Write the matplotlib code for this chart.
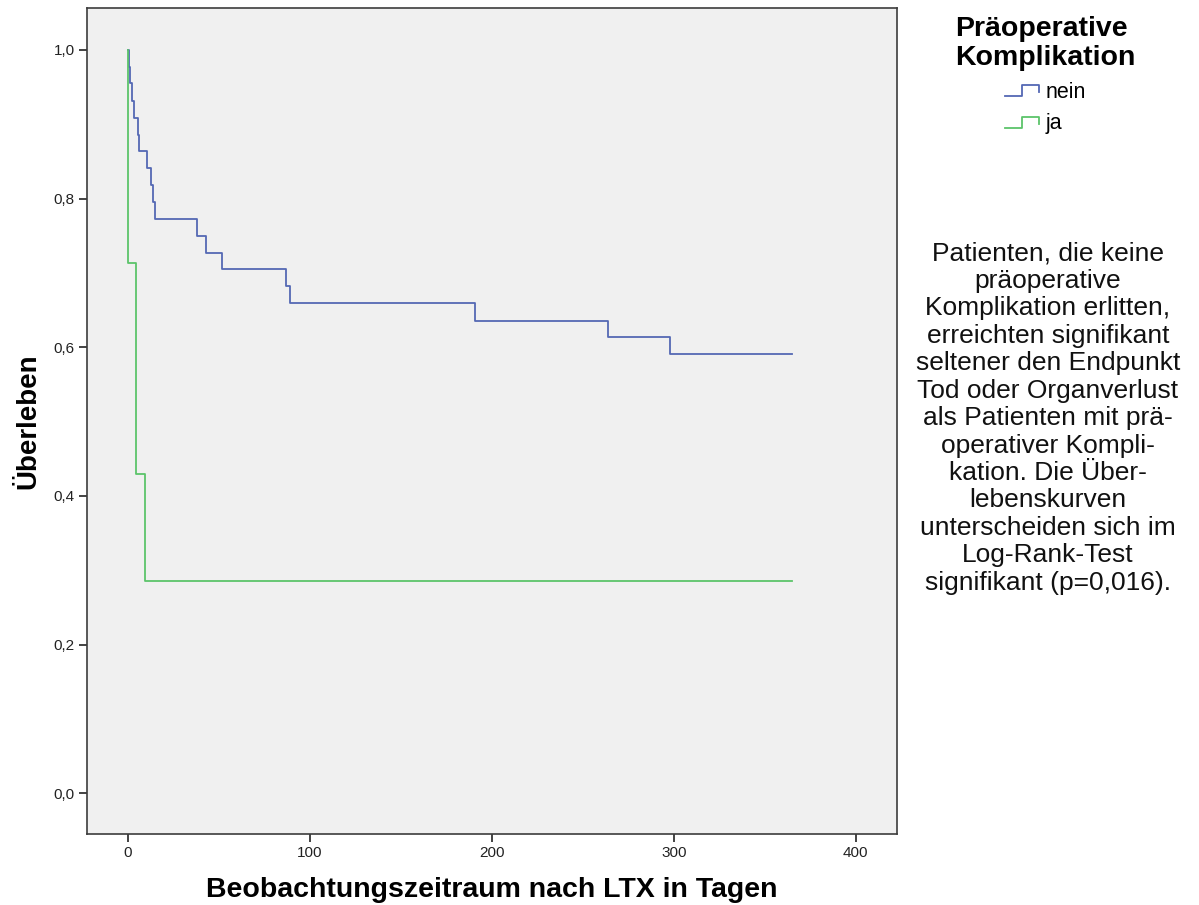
import matplotlib.pyplot as plt
from matplotlib.lines import Line2D
from matplotlib.legend_handler import HandlerBase


# -----------------------------
# Data
# -----------------------------

nein_days = [0, 0.5, 1.5, 2.5, 3.5, 5.5, 6, 10.5, 13, 14, 15,
             38, 43, 52, 87, 89, 191, 264, 298, 365]
nein_surv = [1.0, 0.977, 0.955, 0.932, 0.909, 0.886, 0.864, 0.841,
             0.818, 0.795, 0.773, 0.750, 0.727, 0.705, 0.682, 0.659,
             0.636, 0.614, 0.591, 0.591]

ja_days = [0, 0.3, 4.5, 9.5, 365]
ja_surv = [1.0, 0.714, 0.429, 0.286, 0.286]

x_ticks = [0, 100, 200, 300, 400]
y_ticks = [0.0, 0.2, 0.4, 0.6, 0.8, 1.0]
y_tick_labels = ["0,0", "0,2", "0,4", "0,6", "0,8", "1,0"]

group_names = ["nein", "ja"]
group_colors = ["#5468b4", "#5cc46a"]

note_text = (
    "Patienten, die keine\n"
    "präoperative\n"
    "Komplikation erlitten,\n"
    "erreichten signifikant\n"
    "seltener den Endpunkt\n"
    "Tod oder Organverlust\n"
    "als Patienten mit prä-\n"
    "operativer Kompli-\n"
    "kation. Die Über-\n"
    "lebenskurven\n"
    "unterscheiden sich im\n"
    "Log-Rank-Test\n"
    "signifikant (p=0,016)."
)


plt.rcParams["font.family"] = ["Liberation Sans", "DejaVu Sans"]


# step shaped legend icon, like the SPSS one
class StepHandler(HandlerBase):

    def create_artists(self, legend, orig_handle, xdescent, ydescent,
                       width, height, fontsize, trans):
        x0 = -xdescent
        y0 = -ydescent
        xs = [x0, x0 + width * 0.5, x0 + width * 0.5, x0 + width, x0 + width]
        ys = [y0 + height * 0.1, y0 + height * 0.1, y0 + height * 0.8,
              y0 + height * 0.8, y0 + height * 0.35]
        line = Line2D(xs, ys, color=orig_handle.get_color(),
                      linewidth=orig_handle.get_linewidth(), transform=trans)
        return [line]


fig = plt.figure(figsize=(11.99, 9.05), dpi=100)
ax = fig.add_axes([0.0728, 0.0785, 0.6751, 0.9127])

ax.set_facecolor("#f0f0f0")

handles = []
for days, surv, name, color in [
    (nein_days, nein_surv, group_names[0], group_colors[0]),
    (ja_days, ja_surv, group_names[1], group_colors[1]),
]:
    h, = ax.step(days, surv, where="post", color=color,
                 linewidth=1.3, label=name)
    handles.append(h)

ax.set_xlim(-22.2, 422.5)
ax.set_ylim(-0.0548, 1.0565)

ax.set_xticks(x_ticks)
ax.set_xticklabels([str(t) for t in x_ticks])
ax.set_yticks(y_ticks)
ax.set_yticklabels(y_tick_labels)

ax.tick_params(axis="both", direction="out", length=6, width=1.2,
               colors="#222222", labelsize=11, pad=3)

for side in ["left", "right", "top", "bottom"]:
    ax.spines[side].set_color("#3c3c3c")
    ax.spines[side].set_linewidth(1.2)

ax.set_xlabel("Beobachtungszeitraum nach LTX in Tagen",
              fontsize=20.5, fontweight="bold", va="center")
ax.xaxis.set_label_coords(0.5, -0.0678)
ax.set_ylabel("Überleben", fontsize=20, fontweight="bold", va="center")
ax.yaxis.set_label_coords(-0.0733, 0.5)


# legend at top right
leg = fig.legend(
    handles=handles,
    labels=group_names,
    title="Präoperative\nKomplikation",
    title_fontproperties={"size": 20.5, "weight": "bold"},
    handler_map={Line2D: StepHandler()},
    loc="upper center",
    bbox_to_anchor=(0.872, 1.004),
    frameon=False,
    fontsize=15.5,
    handlelength=1.6,
    handletextpad=0.3,
    labelspacing=0.5,
)
leg._legend_box.align = "center"
leg.get_title().set_linespacing(1.15)


# explanatory note
fig.text(0.874, 0.538, note_text, ha="center", va="center",
         fontsize=19, linespacing=1.18, color="#111111")


plt.savefig("out.png", dpi=100)
plt.close()
